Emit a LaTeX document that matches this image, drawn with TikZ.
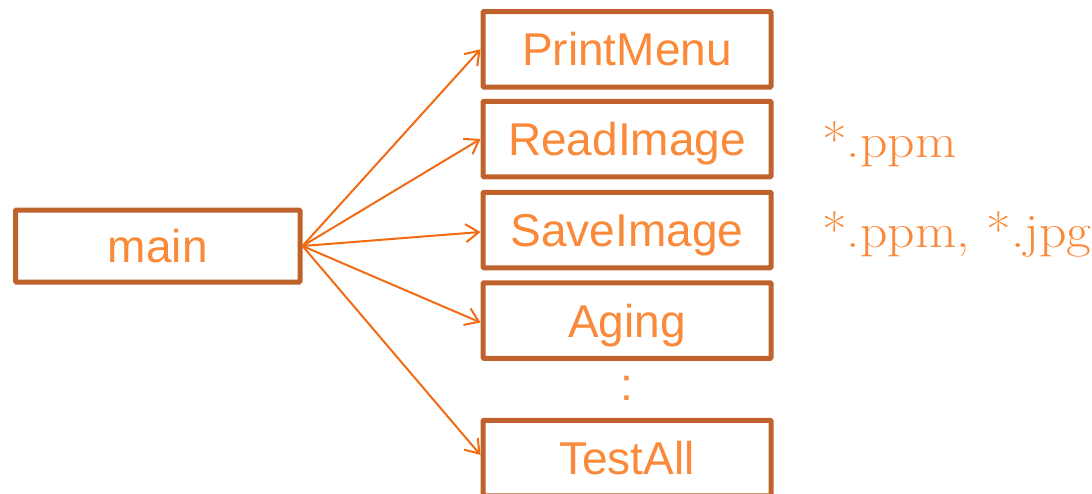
\documentclass[tikz,border=0pt]{standalone}
\usepackage{fontspec}
\newfontfamily\boxfont{Liberation Sans}
\usetikzlibrary{arrows.meta}
\definecolor{boxline}{HTML}{C0622B}
\definecolor{boxtext}{HTML}{FA8A3A}
\definecolor{arrowcol}{HTML}{F26B12}
\tikzset{
  fnbox/.style={draw=boxline, line width=5pt, rounded corners=1pt, fill=white,
    minimum width=288pt, minimum height=75.5pt, inner sep=0pt,
    text=boxtext, font=\boxfont\fontsize{46}{50}\selectfont,
    text height=33pt, text depth=0pt},
  conn/.style={draw=arrowcol, line width=2pt, -{Straight Barb[length=13pt,width=18pt,line width=2pt]}},
  ext/.style={text=boxtext, font=\fontsize{48}{52}\selectfont, anchor=base west, inner sep=0pt}
}
\begin{document}
\begin{tikzpicture}[x=1pt,y=-1pt]
\useasboundingbox (0,0) rectangle (1092,493);
\node[fnbox, minimum width=284.5pt, minimum height=72pt] (main) at (157.75,246) {main};
\node[fnbox] (pm) at (627,49.25) {PrintMenu};
\node[fnbox] (ri) at (627,139) {ReadImage};
\node[fnbox] (si) at (627,230) {SaveImage};
\node[fnbox] (ag) at (627,320.5) {Aging};
\node[fnbox] (ta) at (627,458) {TestAll};
\node[text=boxtext, font=\boxfont\fontsize{46}{50}\selectfont, inner sep=0pt] (dots) at (627,388) {:};
\path[conn] (main.east) -- (pm.west);
\path[conn] (main.east) -- (ri.west);
\path[conn] (main.east) -- ([yshift=-2pt]si.west);
\path[conn] (main.east) -- ([yshift=-2pt]ag.west);
\path[conn] (main.east) -- ([yshift=3pt]ta.west);
\node[ext] (t1) at (822,157) {\scalebox{1.12}[1]{*.ppm}};
\node[ext] (t2) at (822,247) {\scalebox{1.12}[1]{*.ppm, *.jpg}};
\end{tikzpicture}
\end{document}
